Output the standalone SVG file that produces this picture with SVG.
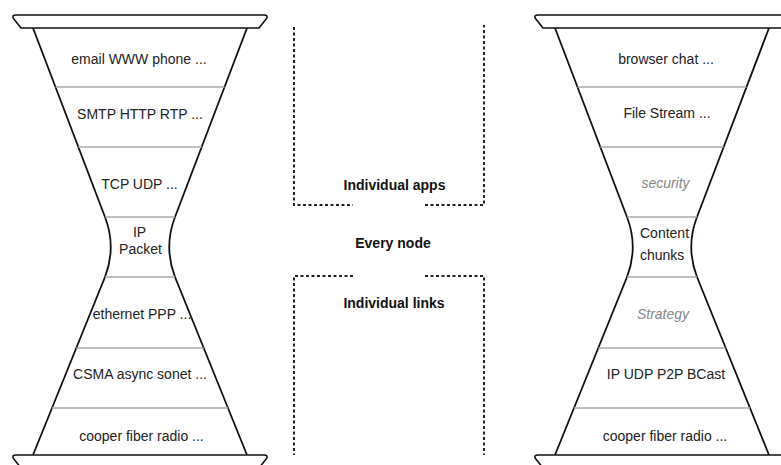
<svg xmlns="http://www.w3.org/2000/svg" width="781" height="465" viewBox="0 0 781 465">
  <defs>
    <style>
      .cap { fill: #fff; stroke: #111; stroke-width: 1.6; stroke-linejoin: round; }
      .funnel { fill: none; stroke: #111; stroke-width: 1.8; stroke-linejoin: round; }
      .sep { stroke: #a8a8a8; stroke-width: 1.6; }
      .lbl { font-family: "Liberation Sans", Helvetica, Arial, sans-serif; font-size: 14px; fill: #222; text-anchor: middle; }
      .ital { font-style: italic; fill: #888; }
      .bold { font-weight: bold; fill: #111; }
      .dot { fill: none; stroke: #222; stroke-width: 2; stroke-dasharray: 3 2.5; }
    </style>
    <g id="hourglass-shape">
      <path class="funnel" d="M33,28 L105,217 Q116.5,247 105,277 L33,455"/>
      <path class="funnel" d="M247,28 L175,217 Q163.5,247 175,277 L247,455"/>
      <line class="sep" x1="55.5" y1="87" x2="224.5" y2="87"/>
      <line class="sep" x1="78.3" y1="147" x2="201.7" y2="147"/>
      <line class="sep" x1="105" y1="217" x2="175" y2="217"/>
      <line class="sep" x1="105" y1="277" x2="175" y2="277"/>
      <line class="sep" x1="76.3" y1="348" x2="203.7" y2="348"/>
      <line class="sep" x1="52" y1="408" x2="228" y2="408"/>
      <path class="cap" d="M16,15 H264 Q268.5,15 266.5,18.5 L259,28 H21 L13.5,18.5 Q11.5,15 16,15 Z"/>
      <path class="cap" d="M16,455 H264 Q268.5,455 266.5,458.5 L259,468 H21 L13.5,458.5 Q11.5,455 16,455 Z"/>
    </g>
  </defs>

  <g id="hourglass-internet">
    <use href="#hourglass-shape"/>
    <g id="layer-apps"><text class="lbl" x="139" y="64">email WWW phone ...</text></g>
    <g id="layer-protocols"><text class="lbl" x="140" y="119">SMTP HTTP RTP ...</text></g>
    <g id="layer-transport"><text class="lbl" x="139.5" y="189">TCP UDP ...</text></g>
    <g id="layer-ip"><text class="lbl" x="139.5" y="237">IP</text><text class="lbl" x="140.5" y="254">Packet</text></g>
    <g id="layer-link"><text class="lbl" x="142" y="319">ethernet PPP ...</text></g>
    <g id="layer-mac"><text class="lbl" x="140" y="379">CSMA async sonet ...</text></g>
    <g id="layer-physical"><text class="lbl" x="141.5" y="441">cooper fiber radio ...</text></g>
  </g>

  <g id="hourglass-ccn">
    <use href="#hourglass-shape" transform="translate(522,0)"/>
    <g id="ccn-apps"><text class="lbl" x="666" y="64">browser chat ...</text></g>
    <g id="ccn-file"><text class="lbl" x="667" y="118">File Stream ...</text></g>
    <g id="ccn-security"><text class="lbl ital" x="665.5" y="188">security</text></g>
    <g id="ccn-content"><text class="lbl" x="640" y="238" style="text-anchor:start">Content</text><text class="lbl" x="640" y="260" style="text-anchor:start">chunks</text></g>
    <g id="ccn-strategy"><text class="lbl ital" x="663" y="319">Strategy</text></g>
    <g id="ccn-transport"><text class="lbl" x="666" y="379">IP UDP P2P BCast</text></g>
    <g id="ccn-physical"><text class="lbl" x="665" y="441">cooper fiber radio ...</text></g>
  </g>

  <g id="connectors">
    <path class="dot" d="M294,27 V205 H353"/>
    <path class="dot" d="M425,205 H484 V25"/>
    <path class="dot" d="M353,276 H294 V455"/>
    <path class="dot" d="M425,276 H484 V455"/>
  </g>

  <g id="scope-labels">
    <text class="lbl bold" x="394.5" y="190">Individual apps</text>
    <text class="lbl bold" x="393" y="248">Every node</text>
    <text class="lbl bold" x="394" y="308">Individual links</text>
  </g>
</svg>
